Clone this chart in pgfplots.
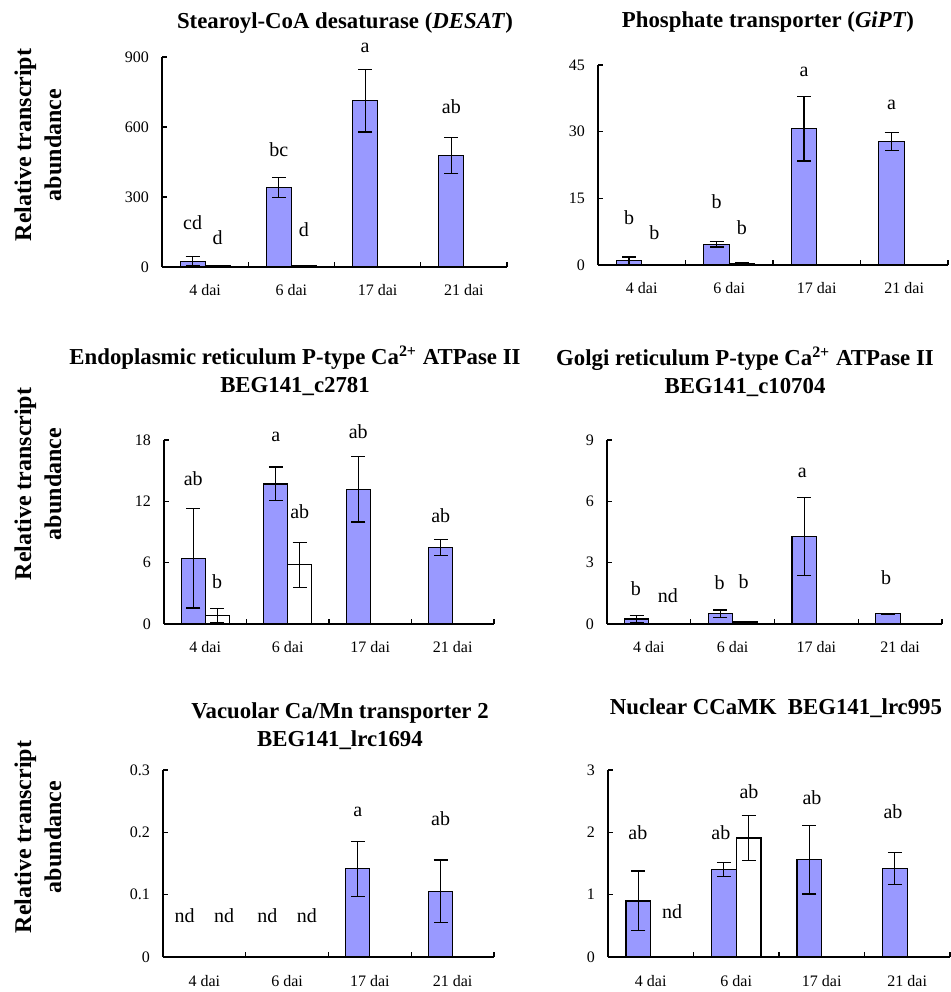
\documentclass[border=0pt]{standalone}
\usepackage{pgfplots}
\pgfplotsset{compat=1.18}
\usepackage{fontspec}
\setmainfont{Liberation Serif}
\definecolor{barblue}{HTML}{9999FF}

\pgfplotsset{
  panel/.style={
    scale only axis, anchor=south west, clip=false,
    xmin=0.5, xmax=4.5, ymin=0, enlargelimits=false,
    axis lines*=left, axis line style={-, line width=0.75pt},
    ybar=0pt, bar width=0.29,
    xtick={1,2,3,4}, xticklabels={4 dai,6 dai,17 dai,21 dai},
    minor xtick={1.5,2.5,3.5,4.5},
    major x tick style={draw=none},
    tick align=inside, major tick length=2.5pt, minor tick length=2.5pt,
    tick style={black, line width=0.6pt},
    ticklabel style={font=\fontsize{8}{9.6}\selectfont},
    xticklabel style={anchor=base, yshift=-14.5pt},
    yticklabel style={xshift=-3pt},
    /pgf/number format/assume math mode=true,
    error bars/error bar style={line width=0.6pt, black},
    error bars/error mark options={rotate=90, mark size=3.5pt, line width=0.6pt, black},
  },
  bluebar/.style={fill=barblue, draw=black, line width=0.6pt,
    error bars/y dir=both, error bars/y explicit},
  whitebar/.style={fill=white, draw=black, line width=0.6pt,
    error bars/y dir=both, error bars/y explicit},
}
\tikzset{lab/.style={font=\fontsize{10}{12}\selectfont, inner sep=0pt}}

\begin{document}
\begin{tikzpicture}
\useasboundingbox (0,0) rectangle (475pt,496pt);

% --- DESAT
\begin{axis}[panel, at={(81pt,362.5pt)}, width=172.5pt, height=105pt,
  ymax=900, ytick={0,300,600,900}]
\addplot[bluebar] coordinates {(1,25) +- (0,20) (2,340) +- (0,42) (3,712) +- (0,133) (4,478) +- (0,77)};
\addplot[whitebar] coordinates {(1,5) +- (0,3) (2,5) +- (0,3)};
\node[lab] at (axis cs:0.855,188) {cd};
\node[lab] at (axis cs:1.145,124) {d};
\node[lab] at (axis cs:1.855,501) {bc};
\node[lab] at (axis cs:2.145,158) {d};
\node[lab] at (axis cs:2.855,940) {a};
\node[lab] at (axis cs:3.855,686) {ab};
\end{axis}

% --- GiPT
\begin{axis}[panel, at={(299pt,363.5pt)}, width=175pt, height=100pt,
  ymax=45, ytick={0,15,30,45}]
\addplot[bluebar] coordinates {(1,1.0) +- (0,0.8) (2,4.65) +- (0,0.6) (3,30.7) +- (0,7.3) (4,27.8) +- (0,2.1)};
\addplot[whitebar] coordinates {(1,0.1) +- (0,0.05) (2,0.3) +- (0,0.15)};
\node[lab] at (axis cs:0.855,10.6) {b};
\node[lab] at (axis cs:1.145,7.2) {b};
\node[lab] at (axis cs:1.855,14.2) {b};
\node[lab] at (axis cs:2.145,8.3) {b};
\node[lab] at (axis cs:2.855,43.5) {a};
\node[lab] at (axis cs:3.855,36) {a};
\end{axis}

% --- ER Ca ATPase
\begin{axis}[panel, at={(82pt,184pt)}, width=165pt, height=92pt,
  ymax=18, ytick={0,6,12,18}]
\addplot[bluebar] coordinates {(1,6.42) +- (0,4.85) (2,13.7) +- (0,1.65) (3,13.17) +- (0,3.2) (4,7.47) +- (0,0.8)};
\addplot[whitebar] coordinates {(1,0.82) +- (0,0.7) (2,5.8) +- (0,2.2)};
\node[lab] at (axis cs:0.855,14.25) {ab};
\node[lab] at (axis cs:1.145,4.1) {b};
\node[lab] at (axis cs:1.855,18.26) {a};
\node[lab] at (axis cs:2.145,11.0) {ab};
\node[lab] at (axis cs:2.855,18.8) {ab};
\node[lab] at (axis cs:3.855,10.6) {ab};
\end{axis}

% --- Golgi Ca ATPase
\begin{axis}[panel, at={(303.5pt,184pt)}, width=167.5pt, height=92pt,
  ymax=9, ytick={0,3,6,9}]
\addplot[bluebar] coordinates {(1,0.245) +- (0,0.17) (2,0.5) +- (0,0.18) (3,4.29) +- (0,1.9) (4,0.5) +- (0,0.03)};
\addplot[whitebar] coordinates {(2,0.1) +- (0,0.02)};
\node[lab] at (axis cs:0.845,1.75) {b};
\node[lab] at (axis cs:1.226,1.4) {nd};
\node[lab] at (axis cs:1.845,2.04) {b};
\node[lab] at (axis cs:2.131,2.07) {b};
\node[lab] at (axis cs:2.833,7.37) {a};
\node[lab] at (axis cs:3.833,2.28) {b};
\end{axis}

% --- Vacuolar Ca/Mn
\begin{axis}[panel, at={(81.5pt,17.5pt)}, width=165.5pt, height=93.5pt,
  ymax=0.3, ytick={0,0.1,0.2,0.3}]
\addplot[bluebar, bar shift=-0.145] coordinates {(3,0.1414) +- (0,0.044) (4,0.1055) +- (0,0.05)};
\node[lab] at (axis cs:0.76,0.067) {nd};
\node[lab] at (axis cs:1.24,0.067) {nd};
\node[lab] at (axis cs:1.76,0.067) {nd};
\node[lab] at (axis cs:2.24,0.067) {nd};
\node[lab] at (axis cs:2.855,0.232) {a};
\node[lab] at (axis cs:3.855,0.222) {ab};
\end{axis}

% --- CCaMK
\begin{axis}[panel, at={(304pt,17.5pt)}, width=171pt, height=93.5pt,
  ymax=3, ytick={0,1,2,3}]
\addplot[bluebar] coordinates {(1,0.9) +- (0,0.48) (2,1.40) +- (0,0.11) (3,1.56) +- (0,0.55) (4,1.42) +- (0,0.26)};
\addplot[whitebar] coordinates {(2,1.91) +- (0,0.36)};
\node[lab] at (axis cs:0.85,1.99) {ab};
\node[lab] at (axis cs:1.25,0.72) {nd};
\node[lab] at (axis cs:1.82,1.99) {ab};
\node[lab] at (axis cs:2.149,2.65) {ab};
\node[lab] at (axis cs:2.886,2.56) {ab};
\node[lab] at (axis cs:3.833,2.33) {ab};
\end{axis}

% titles
\begin{scope}[every node/.style={font=\bfseries\fontsize{11.4}{14}\selectfont, align=center, inner sep=0pt}]
\node at (172.5pt,484.5pt) {Stearoyl-CoA desaturase (\textit{DESAT})};
\node at (384pt,485pt) {Phosphate transporter (\textit{GiPT})};
\node at (147.5pt,310.5pt) {Endoplasmic reticulum P-type Ca\textsuperscript{2+} ATPase II\\BEG141\_c2781};
\node at (372.5pt,310pt) {Golgi reticulum P-type Ca\textsuperscript{2+} ATPase II\\BEG141\_c10704};
\node at (170pt,133pt) {Vacuolar Ca/Mn transporter 2\\BEG141\_lrc1694};
\node at (388pt,142pt) {Nuclear CCaMK~~BEG141\_lrc995};
\end{scope}

% y labels
\begin{scope}[every node/.style={font=\bfseries\fontsize{12}{15}\selectfont, align=center, rotate=90, inner sep=0pt}]
\node at (19pt,423.5pt) {Relative transcript\\abundance};
\node at (19pt,254pt) {Relative transcript\\abundance};
\node at (19pt,77.5pt) {Relative transcript\\abundance};
\end{scope}
\end{tikzpicture}
\end{document}
